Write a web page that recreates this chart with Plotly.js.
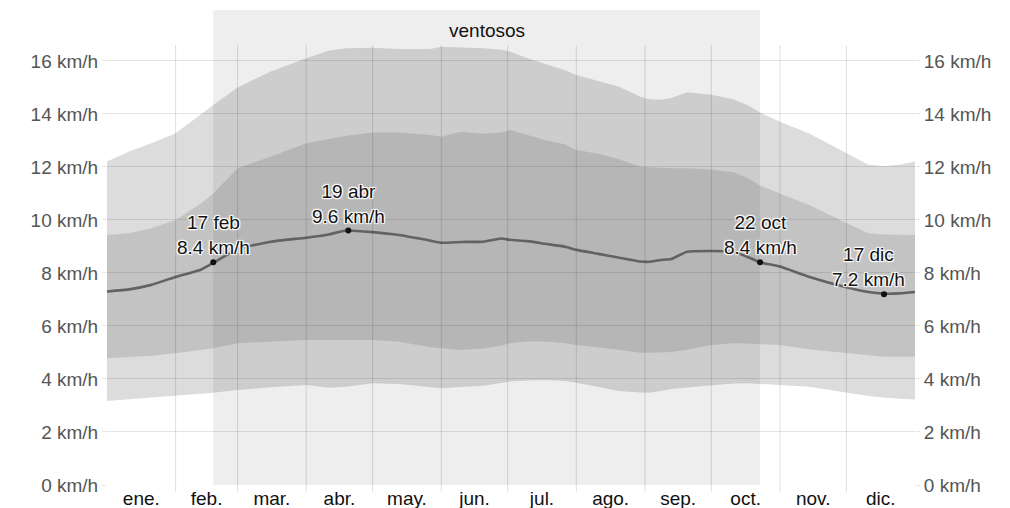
<!DOCTYPE html>
<html>
<head>
<meta charset="utf-8">
<script src="https://cdn.plot.ly/plotly-3.0.1.min.js"></script>
<style>html,body{margin:0;padding:0;background:#fff;}#chart{width:1010px;height:508px;}</style>
</head>
<body>
<div id="chart"></div>
<script>
// ---- data ----
const days = [0, 10, 20, 31, 42, 48, 59, 74, 90, 100, 108, 120, 132, 146, 151, 160, 170, 178, 182, 190, 198, 207, 212, 222, 231, 241, 245, 250, 255, 262, 273, 283, 289, 295, 304, 317, 334, 344, 351, 358, 365];
const meanSpeed = [7.30, 7.38, 7.55, 7.85, 8.11, 8.38, 8.90, 9.18, 9.33, 9.45, 9.60, 9.54, 9.43, 9.22, 9.14, 9.17, 9.18, 9.30, 9.25, 9.20, 9.10, 8.99, 8.87, 8.72, 8.58, 8.43, 8.42, 8.49, 8.53, 8.80, 8.83, 8.80, 8.62, 8.40, 8.24, 7.86, 7.46, 7.28, 7.22, 7.23, 7.28];
const p90 = [12.20, 12.58, 12.89, 13.27, 13.96, 14.34, 15.00, 15.60, 16.10, 16.38, 16.48, 16.50, 16.45, 16.45, 16.53, 16.50, 16.48, 16.42, 16.35, 16.10, 15.90, 15.65, 15.47, 15.25, 15.03, 14.65, 14.55, 14.53, 14.60, 14.82, 14.72, 14.55, 14.35, 14.05, 13.70, 13.27, 12.52, 12.08, 12.03, 12.08, 12.20];
const p75 = [9.43, 9.50, 9.69, 10.00, 10.60, 11.00, 11.95, 12.39, 12.89, 13.05, 13.18, 13.30, 13.30, 13.20, 13.14, 13.33, 13.25, 13.30, 13.40, 13.20, 13.02, 12.85, 12.64, 12.50, 12.30, 12.01, 11.98, 11.97, 11.95, 11.95, 11.90, 11.80, 11.60, 11.30, 11.00, 10.57, 9.88, 9.50, 9.45, 9.43, 9.43];
const p25 = [4.78, 4.82, 4.88, 4.97, 5.08, 5.16, 5.35, 5.42, 5.47, 5.47, 5.47, 5.47, 5.40, 5.20, 5.16, 5.09, 5.15, 5.25, 5.35, 5.41, 5.41, 5.35, 5.28, 5.20, 5.10, 4.99, 4.99, 5.00, 5.02, 5.10, 5.28, 5.35, 5.34, 5.32, 5.28, 5.12, 4.97, 4.88, 4.84, 4.84, 4.84];
const p10 = [3.17, 3.23, 3.30, 3.36, 3.44, 3.48, 3.58, 3.69, 3.77, 3.67, 3.71, 3.84, 3.81, 3.68, 3.65, 3.70, 3.74, 3.85, 3.90, 3.94, 3.96, 3.92, 3.86, 3.70, 3.55, 3.49, 3.48, 3.55, 3.62, 3.68, 3.77, 3.83, 3.84, 3.82, 3.77, 3.71, 3.48, 3.36, 3.30, 3.25, 3.23];

const monthLabels = ["ene.", "feb.", "mar.", "abr.", "may.", "jun.", "jul.", "ago.", "sep.", "oct.", "nov.", "dic."];
const monthLengths = [31, 28, 31, 30, 31, 30, 31, 31, 30, 31, 30, 31];

const yTickValues = [0, 2, 4, 6, 8, 10, 12, 14, 16];
const yTickLabels = ["0 km/h", "2 km/h", "4 km/h", "6 km/h", "8 km/h", "10 km/h", "12 km/h", "14 km/h", "16 km/h"];

const highlightDays = [48, 109, 295, 351];
const highlightValues = [8.4, 9.6, 8.4, 7.2];
const highlightDates = ["17 feb", "19 abr", "22 oct", "17 dic"];

const windyLabel = "ventosos";
const windyStart = 48;
const windyEnd = 295;

// ---- derived ----
const monthStarts = [];
const monthMids = [];
let acc = 0;
monthLengths.forEach(len => { monthStarts.push(acc); monthMids.push(acc + len / 2); acc += len; });

// ---- style ----
const FONT = "Liberation Sans, Arial, sans-serif";
const labelShiftX = [0, 0, 0, -16];
const halo = "1px 1px 1px #fff, -1px -1px 1px #fff, 1px -1px 1px #fff, -1px 1px 1px #fff, 0px 0px 3px #fff";

const traces = [
  {x: days, y: p10, type: "scatter", mode: "lines", line: {width: 0, color: "rgba(0,0,0,0)"}, hoverinfo: "skip", showlegend: false},
  {x: days, y: p90, type: "scatter", mode: "lines", fill: "tonexty", fillcolor: "rgba(0,0,0,0.137)", line: {width: 0, color: "rgba(0,0,0,0)"}, hoverinfo: "skip", showlegend: false},
  {x: days, y: p25, type: "scatter", mode: "lines", line: {width: 0, color: "rgba(0,0,0,0)"}, hoverinfo: "skip", showlegend: false},
  {x: days, y: p75, type: "scatter", mode: "lines", fill: "tonexty", fillcolor: "rgba(0,0,0,0.11)", line: {width: 0, color: "rgba(0,0,0,0)"}, hoverinfo: "skip", showlegend: false},
  {x: days, y: meanSpeed, type: "scatter", mode: "lines", line: {width: 2.6, color: "#626262", shape: "spline", smoothing: 0.4}, hoverinfo: "skip", showlegend: false},
  {x: highlightDays, y: highlightValues, type: "scatter", mode: "markers", marker: {size: 6, color: "#111"}, hoverinfo: "skip", showlegend: false},
  {x: [0, 365], y: [0, 0], type: "scatter", mode: "lines", yaxis: "y2", line: {width: 0, color: "rgba(0,0,0,0)"}, hoverinfo: "skip", showlegend: false}
];

const shapes = [
  {type: "rect", xref: "x", yref: "paper", x0: windyStart, x1: windyEnd, y0: 0, y1: 1, fillcolor: "#eeeeee", line: {width: 0}, layer: "below"}
];
monthStarts.slice(1).forEach(m => {
  shapes.push({type: "line", xref: "x", yref: "paper", x0: m, x1: m, y0: -0.0147, y1: 0.926, line: {color: "rgba(0,0,0,0.13)", width: 1}, layer: "above"});
});

const annotations = highlightDays.map((d, i) => ({
  x: d, y: highlightValues[i], xref: "x", yref: "y",
  text: highlightDates[i] + "<br>" + highlightValues[i].toFixed(1) + " km/h",
  showarrow: false, xanchor: "center", yanchor: "bottom", yshift: 2, xshift: labelShiftX[i],
  font: {family: FONT, size: 19, color: "#111", shadow: halo}
}));
annotations.push({
  x: (windyStart + windyEnd) / 2, y: 0.956, xref: "x", yref: "paper",
  text: windyLabel, showarrow: false, xanchor: "center", yanchor: "middle",
  font: {family: FONT, size: 19, color: "#111"}
});

const yAxisCommon = {
  range: [0, 17.92], tickvals: yTickValues, ticktext: yTickLabels,
  tickfont: {family: FONT, size: 19, color: "#555"},
  ticks: "outside", ticklen: 4, tickcolor: "#e4e4e4", zeroline: false, showline: false, fixedrange: true
};

const layout = {
  width: 1010, height: 508,
  margin: {l: 107, r: 95, t: 10, b: 23, pad: 0},
  paper_bgcolor: "#fff", plot_bgcolor: "rgba(0,0,0,0)",
  showlegend: false,
  font: {family: FONT},
  xaxis: {
    range: [0, 365], tickvals: monthMids, ticktext: monthLabels,
    tickfont: {family: FONT, size: 19, color: "#111"},
    showgrid: false, zeroline: false, showline: false, ticks: "", fixedrange: true
  },
  yaxis: Object.assign({}, yAxisCommon, {showgrid: true, gridcolor: "rgba(0,0,0,0.1)", gridwidth: 1, side: "left"}),
  yaxis2: Object.assign({}, yAxisCommon, {showgrid: false, overlaying: "y", side: "right"}),
  shapes: shapes,
  annotations: annotations
};

Plotly.newPlot("chart", traces, layout, {staticPlot: true, displayModeBar: false});
</script>
</body>
</html>
